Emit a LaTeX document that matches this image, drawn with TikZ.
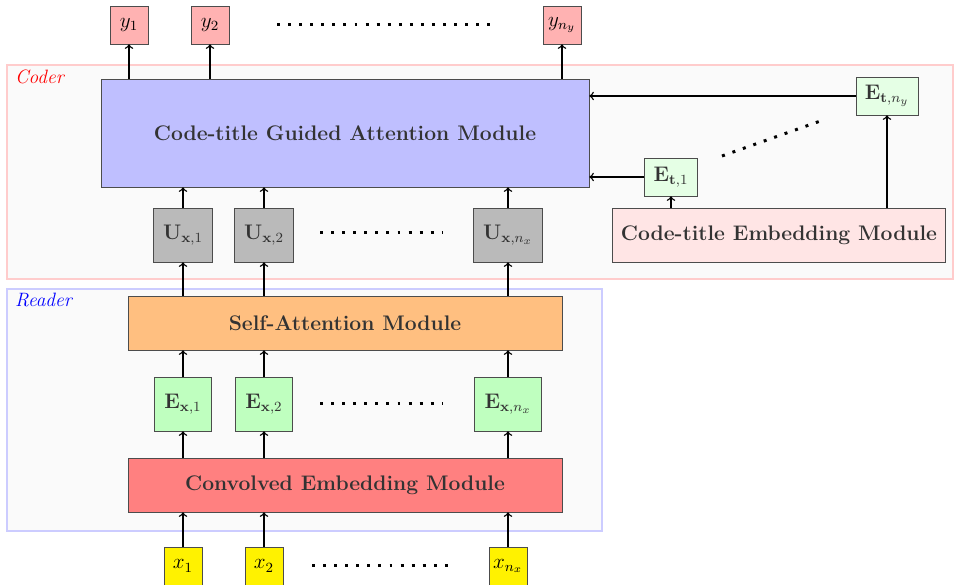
\documentclass[tikz,border=0pt]{standalone}
\usetikzlibrary{positioning}
\begin{document}
\begin{tikzpicture}[
    every node/.style={font=\large},
    box/.style={draw=black!70, text=black!80, minimum width=1.1cm, minimum height=1.08cm, inner xsep=5.5pt, inner ysep=2pt},
    module/.style={draw=black!70, text=black!80, font=\large\bfseries, minimum height=1.08cm},
    tok/.style={draw=black!70, minimum width=.76cm, minimum height=.76cm, inner sep=1pt},
    emb/.style={draw=black!70, fill=green!10, text=black!80, minimum height=.76cm, inner xsep=5pt, inner ysep=2pt},
    dotline/.style={line width=1.7pt, dash pattern=on 1.7pt off 4.6pt},
    arr/.style={->, thick}
  ]
  \useasboundingbox (0,0) rectangle (19.08,11.7);
  % the two blocks
  \draw[red!20, line width=1.4pt, fill=black!2] (.14,6.12) rectangle (19.06,10.4);
  \draw[blue!20, line width=1.4pt, fill=black!2] (.14,1.08) rectangle (12.04,5.92);
  \node[anchor=west, red, font=\fontsize{11}{13}\selectfont\itshape] (coder) at (.18,10.16) {Coder};
  \node[anchor=west, blue, font=\fontsize{11}{13}\selectfont\itshape] (reader) at (.18,5.7) {Reader};

  % modules
  \node[module, fill=blue!25, minimum width=9.76cm, minimum height=2.16cm] (att) at (6.9,9.04) {Code-title Guided Attention Module};
  \node[module, fill=orange!50, minimum width=8.68cm] (self) at (6.9,5.24) {Self-Attention Module};
  \node[module, fill=red!50, minimum width=8.68cm] (conv) at (6.9,2.0) {Convolved Embedding Module};
  \node[module, fill=red!10, minimum width=6.66cm] (ctemb) at (15.58,7.0) {Code-title Embedding Module};

  % outputs
  \node[tok, fill=red!30] (y1) at (2.58,11.2) {$y_1$};
  \node[tok, fill=red!30] (y2) at (4.2,11.2) {$y_2$};
  \node[tok, fill=red!30] (yn) at (11.24,11.2) {$y_{n_y}$};
  \draw[dotline] (5.54,11.2) -- (9.84,11.2);

  % inputs
  \node[tok, fill=yellow] (x1) at (3.66,.38) {$x_1$};
  \node[tok, fill=yellow] (x2) at (5.28,.38) {$x_2$};
  \node[tok, fill=yellow] (xn) at (10.16,.38) {$x_{n_x}$};
  \draw[dotline] (6.24,.38) -- (9.1,.38);

  % hidden states
  \node[box, fill=black!27] (u1) at (3.66,7.0) {$\mathbf{U}_{\mathbf{x},1}$};
  \node[box, fill=black!27] (u2) at (5.28,7.0) {$\mathbf{U}_{\mathbf{x},2}$};
  \node[box, fill=black!27] (un) at (10.16,7.0) {$\mathbf{U}_{\mathbf{x},n_x}$};
  \draw[dotline] (6.4,7.04) -- (8.84,7.04);

  \node[box, fill=green!25] (e1) at (3.66,3.62) {$\mathbf{E}_{\mathbf{x},1}$};
  \node[box, fill=green!25] (e2) at (5.28,3.62) {$\mathbf{E}_{\mathbf{x},2}$};
  \node[box, fill=green!25] (en) at (10.16,3.62) {$\mathbf{E}_{\mathbf{x},n_x}$};
  \draw[dotline] (6.4,3.62) -- (8.84,3.62);

  \node[emb] (t1) at (13.42,8.16) {$\mathbf{E}_{\mathbf{t},1}$};
  \node[emb] (tn) at (17.74,9.78) {$\mathbf{E}_{\mathbf{t},n_y}$};
  \draw[dotline] (14.44,8.58) -- (16.52,9.32);

  % connections
  \foreach \a/\b/\c/\d in {x1/e1/u1/y1, x2/e2/u2/y2, xn/en/un/yn}{
    \draw[arr] (\a) -- (\a |- conv.south);
    \draw[arr] (conv.north -| \b) -- (\b);
    \draw[arr] (\b) -- (\b |- self.south);
    \draw[arr] (self.north -| \c) -- (\c);
    \draw[arr] (\c) -- (\c |- att.south);
    \draw[arr] (att.north -| \d) -- (\d);
  }
  \foreach \t in {t1,tn}{
    \draw[arr] (ctemb.north -| \t) -- (\t);
    \draw[arr] (\t) -- (\t -| att.east);
  }
\end{tikzpicture}
\end{document}
